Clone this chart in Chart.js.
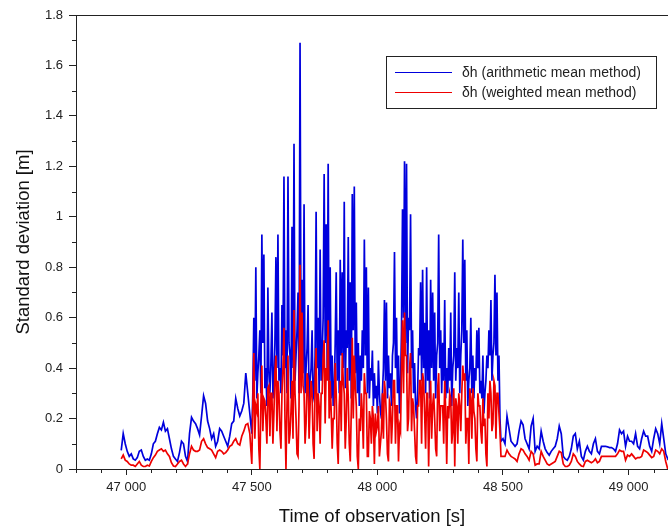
<!DOCTYPE html>
<html><head><meta charset="utf-8">
<script src="https://cdn.jsdelivr.net/npm/chart.js@4.4.0/dist/chart.umd.min.js"></script>
<style>
html,body{margin:0;padding:0;background:#fff;overflow:hidden}
#wrap{position:relative;width:668px;height:529px}
#legend{position:absolute;left:386px;top:56px;width:271px;height:53px;border:1px solid #222;box-sizing:border-box;font-family:"Liberation Sans",Arial,sans-serif;font-size:14px;color:#222}
.sw{position:absolute;left:8px;width:57px;height:0}
.lab{position:absolute;left:75px;white-space:nowrap;line-height:16px}
</style></head>
<body>
<div id="wrap">
<canvas id="c" width="668" height="529"></canvas>
<div id="legend"></div>
</div>
<script>
const seriesLabels = ['δh (arithmetic mean method)', 'δh (weighted mean method)'];
const seriesColors = ['#0000dd', '#ee0000'];
const xTickValues = [47000, 47500, 48000, 48500, 49000];
const xTickLabels = ['47 000', '47 500', '48 000', '48 500', '49 000'];
const yTickValues = [0, 0.2, 0.4, 0.6, 0.8, 1, 1.2, 1.4, 1.6, 1.8];
const yTickLabels = ['0', '0.2', '0.4', '0.6', '0.8', '1', '1.2', '1.4', '1.6', '1.8'];

// sampling of each part of the record: first time stamp [s] and step [s]
const leftStart = 46980, leftStep = 8;
const midStart = 47500, midStep = 4;
const rightStart = 48500, rightStep = 8;

// δh, arithmetic mean method [m]
const arithLeft = [
 .074,.14,.10,.07,.05,.06,.04,.035,.045,.07,
 .075,.05,.035,.04,.035,.06,.10,.11,.14,.165,
 .155,.185,.15,.16,.12,.08,.05,.04,.03,.065,
 .11,.10,.05,.03,.14,.205,.19,.18,.16,.135,
 .21,.29,.26,.19,.16,.12,.14,.09,.11,.16,
 .15,.13,.11,.09,.13,.18,.19,.28,.24,.21,
 .23,.26,.38,.30,.22
];
const arithMid = [
 .14,.30,.60,.35,.80,.28,.38,.45,.55,.30,.93,.50,.85,.32,.40,.25,.72,.38,.30,.42,
 .62,.28,.35,.50,.84,.40,.93,.35,.40,.30,.65,.45,1.16,.40,.55,.30,1.16,.50,.45,.28,
 .96,.40,1.29,.35,.45,.55,.70,.30,1.69,.45,.75,.38,1.05,.30,.40,.48,.65,.25,.35,.40,
 .55,.28,.30,.45,1.02,.40,.60,.30,.87,.35,.45,.60,1.17,.50,.97,.40,1.21,.35,.80,.28,
 .45,.25,.30,.50,.78,.35,.55,.30,.83,.45,.78,.40,1.06,.32,.55,.48,.92,.35,.74,.28,
 1.09,.55,1.12,.38,.66,.30,.50,.25,.45,.35,.55,.40,.91,.45,.80,.30,.72,.28,.40,.35,
 .47,.25,.38,.28,.33,.22,.43,.30,.23,.20,.30,.40,.67,.35,.66,.28,.45,.32,.38,.25,
 .45,.50,.86,.40,.60,.30,.45,.22,.33,.55,1.03,.60,1.22,.50,1.21,.38,.60,.55,1.01,.40,
 .55,.30,.42,.25,.20,.30,.48,.45,.74,.35,.79,.40,.58,.30,.80,.35,.55,.28,.75,.40,
 .70,.35,.62,.28,.45,.50,.93,.40,.55,.30,.50,.35,.67,.28,.40,.30,.48,.35,.62,.25,
 .40,.45,.78,.35,.48,.40,.70,.30,.45,.55,.91,.50,.83,.35,.55,.25,.35,.40,.60,.30,
 .45,.28,.40,.35,.55,.40,.56,.30,.35,.28,.45,.22,.30,.35,.45,.40,.55,.45,.67,.35,
 .45,.50,.77,.45,.70,.35,.45,.20,
 .11
];
const arithRight = [
 .12,.10,.21,.16,.11,.10,.09,.10,.15,.19,
 .175,.12,.10,.08,.17,.20,.07,.09,.08,.15,
 .11,.08,.065,.055,.07,.08,.09,.12,.17,.14,
 .05,.04,.035,.05,.08,.13,.14,.08,.11,.05,
 .035,.07,.09,.07,.06,.10,.12,.07,.06,.09,
 .09,.09,.088,.085,.085,.08,.07,.10,.155,.14,
 .15,.09,.13,.11,.11,.10,.14,.09,.08,.12,
 .15,.13,.13,.09,.07,.12,.16,.14,.10,.18,
 .12,.06,.04,.05,.06
];

// δh, weighted mean method [m]
const weightLeft = [
 .04,.055,.035,.03,.02,.015,.015,.01,.02,.03,
 .015,.01,.01,.015,.012,.03,.045,.055,.07,.075,
 .08,.07,.075,.06,.05,.025,.012,.01,.02,.03,
 .035,.02,.01,.02,.06,.09,.075,.07,.07,.075,
 .11,.12,.10,.085,.08,.075,.06,.045,.07,.075,
 .07,.06,.065,.075,.09,.095,.11,.12,.10,.095,
 .13,.15,.175,.18,.14
];
const weightMid = [
 .02,.25,.46,.12,.25,.23,.30,.08,0,.25,.41,.15,.28,.27,.20,.10,.32,.33,.13,.30,
 .30,.10,.22,.38,.45,.15,.35,.30,.15,.08,.30,.40,.56,.20,0,.25,.45,.10,.14,.23,
 .35,.12,.63,.30,.20,.06,.05,.25,.81,.30,.62,.33,.30,.10,.18,.38,.35,.12,.25,.35,
 .30,.10,.04,.35,.48,.15,.30,.25,.10,.30,.30,.45,.51,.18,.40,.35,.59,.20,.35,.23,
 .08,.20,.20,.42,.30,.10,.02,.25,.35,.15,.46,.35,.30,.08,.20,.40,.28,.10,.03,.23,
 .52,.20,.45,.33,.25,.05,0,.20,.15,.30,.22,.08,.38,.30,.30,.05,.05,.23,.20,.10,
 .25,.20,.02,.22,.15,.17,.25,.05,.10,.15,.30,.12,.35,.30,.20,.06,.03,.27,.25,.10,
 .20,.35,.35,.10,.25,.25,.03,.17,.15,.40,.59,.30,.62,.45,.45,.15,.20,.40,.46,.15,
 .28,.25,.15,.05,.02,.25,.25,.35,.35,.10,.38,.35,.22,.08,.30,.30,.01,.23,.35,.12,
 .25,.30,.20,.08,.05,.32,.38,.15,.25,.25,.25,.10,.35,.23,.02,.25,.20,.30,.28,.10,
 .15,.32,.01,.28,.25,.10,.30,.25,.15,.30,.41,.35,.38,.10,.20,.20,.02,.32,.28,.12,
 .32,.23,.20,.08,.03,.30,.25,.25,.15,.10,.28,.17,.20,.06,.01,.30,.20,.35,.30,.15,
 .18,.35,.33,.12,.30,.30,.22,.15,
 .05
];
const weightRight = [
 .05,.05,.075,.06,.05,.045,.04,.03,.06,.08,
 .075,.06,.05,.035,.07,.06,.015,.02,.02,.07,
 .05,.035,.02,.015,.02,.025,.03,.05,.07,.065,
 .02,.01,.01,.015,.03,.06,.05,.03,.02,.012,
 .01,.03,.035,.03,.025,.03,.04,.025,.03,.05,
 .05,.05,.05,.05,.05,.05,.05,.06,.075,.07,
 .07,.035,.055,.05,.06,.05,.04,.045,.045,.05,
 .075,.07,.065,.055,.045,.05,.075,.07,.06,.08,
 .07,.03,0,.01,.02
];

const FONT = '"Liberation Sans", Arial, sans-serif';
const seg = (vals, start, step) => vals.map((v, i) => ({x: start + i * step, y: v}));
const arithPts = [...seg(arithLeft, leftStart, leftStep), ...seg(arithMid, midStart, midStep), ...seg(arithRight, rightStart, rightStep)];
const weightPts = [...seg(weightLeft, leftStart, leftStep), ...seg(weightMid, midStart, midStep), ...seg(weightRight, rightStart, rightStep)];

const frame = {
  id: 'frame',
  afterDraw(chart) {
    const {ctx, chartArea: a, scales: {x, y}} = chart;
    ctx.save();
    ctx.strokeStyle = '#222';
    ctx.lineWidth = 1;
    ctx.beginPath();
    ctx.moveTo(a.left, a.top + 0.5); ctx.lineTo(a.right, a.top + 0.5);
    for (let v = 46800; v <= x.max; v += 100) {
      if (v % 500 === 0) continue;
      const px = Math.round(x.getPixelForValue(v)) + 0.5;
      ctx.moveTo(px, a.bottom); ctx.lineTo(px, a.bottom + 4);
    }
    for (let k = 1; k < 18; k += 2) {
      const py = Math.round(y.getPixelForValue(k / 10)) + 0.5;
      ctx.moveTo(a.left - 4, py); ctx.lineTo(a.left, py);
    }
    ctx.stroke();
    ctx.restore();
  }
};

const chart = new Chart(document.getElementById('c'), {
  type: 'line',
  data: {
    datasets: [
      {label: seriesLabels[0], data: arithPts, borderColor: seriesColors[0], borderWidth: 1.7, pointRadius: 0, tension: 0, order: 1},
      {label: seriesLabels[1], data: weightPts, borderColor: seriesColors[1], borderWidth: 1.7, pointRadius: 0, tension: 0, order: 0}
    ]
  },
  options: {
    responsive: false,
    animation: false,
    layout: {padding: {top: 15, left: 0, right: 0, bottom: 0}},
    plugins: {legend: {display: false}, tooltip: {enabled: false}},
    scales: {
      x: {
        type: 'linear', min: 46800, max: 49157,
        afterBuildTicks: s => { s.ticks = xTickValues.map(v => ({value: v})); },
        afterFit: s => { s.height = 60; },
        grid: {display: true, drawOnChartArea: false, drawTicks: true, tickLength: 6, tickColor: '#222'},
        border: {display: true, color: '#222', width: 1},
        ticks: {callback: (v, i) => xTickLabels[i], font: {family: FONT, size: 13}, color: '#222', padding: 5, maxRotation: 0, autoSkip: false},
        title: {display: true, text: 'Time of observation [s]', font: {family: FONT, size: 18.5}, color: '#111', padding: {top: 0, bottom: 1}}
      },
      y: {
        type: 'linear', min: 0, max: 1.8,
        afterBuildTicks: s => { s.ticks = yTickValues.map(v => ({value: v})); },
        afterFit: s => { s.width = 76; },
        grid: {display: true, drawOnChartArea: false, drawTicks: true, tickLength: 7, tickColor: '#222'},
        border: {display: true, color: '#222', width: 1},
        ticks: {callback: (v, i) => yTickLabels[i], font: {family: FONT, size: 13}, color: '#222', padding: 6, autoSkip: false},
        title: {display: true, text: 'Standard deviation [m]', font: {family: FONT, size: 18.5}, color: '#111', padding: {top: 13, bottom: 0}}
      }
    }
  },
  plugins: [frame]
});

// legend (HTML text)
const lg = document.getElementById('legend');
chart.data.datasets.forEach((ds, k) => {
  const sw = document.createElement('div');
  sw.className = 'sw';
  sw.style.top = (15 + 20 * k) + 'px';
  sw.style.borderTop = '1.3px solid ' + ds.borderColor;
  lg.appendChild(sw);
  const lab = document.createElement('div');
  lab.className = 'lab';
  lab.style.top = (7 + 20 * k) + 'px';
  lab.textContent = ds.label;
  lg.appendChild(lab);
});
</script>
</body></html>
